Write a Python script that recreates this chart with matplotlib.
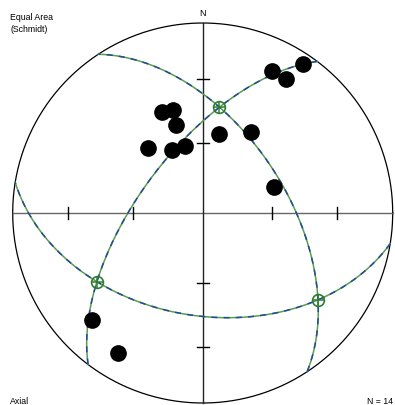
import matplotlib
matplotlib.use("Agg")
import matplotlib.pyplot as plt
import numpy as np

plt.rcParams['font.family'] = ['Liberation Sans', 'DejaVu Sans']

# axial data, lower hemisphere (trend, plunge in degrees)
trend = [338, 344, 343, 320, 334, 345, 12, 31, 26, 32, 34, 70, 226, 211]
plunge = [42, 43, 50, 53, 60, 60, 55, 49, 18, 18, 6, 57, 20, 15]

# principal axes (trend, plunge) - great circles drawn through each pair
axis_trend = [9, 237, 127]
axis_plunge = [43, 34, 25]

n_label = "N = 14"


def to_vec(t, p):
    t = np.radians(t)
    p = np.radians(p)
    return np.array([np.cos(p) * np.cos(t), np.cos(p) * np.sin(t), np.sin(p)])


def project(v):
    # equal area (Schmidt), lower hemisphere, primitive radius 1
    n, e, d = v
    k = 1.0 / np.sqrt(1 + d)
    return e * k, n * k


def great_circle(a, b):
    pole = np.cross(a, b)
    pole = pole / np.linalg.norm(pole)
    u = np.cross(pole, [0, 0, 1.0])
    u = u / np.linalg.norm(u)
    w = np.cross(pole, u)
    if w[2] < 0:
        w = -w
    t = np.linspace(0, np.pi, 400)
    pts = np.outer(np.cos(t), u) + np.outer(np.sin(t), w)
    return project(pts.T)


R = 190.0
cx, cy = 202.7, 213.0
fig = plt.figure(figsize=(3.95, 4.05), dpi=100)
ax = fig.add_axes([0, 0, 1, 1])
ax.set_xlim(-cx / R, (395 - cx) / R)
ax.set_ylim(-(405 - cy) / R, cy / R)
ax.axis('off')

# primitive circle and axes
th = np.linspace(0, 2 * np.pi, 500)
ax.plot(np.cos(th), np.sin(th), color='black', lw=0.9)
ax.plot([-1, 1], [0, 0], color='#666666', lw=1.0)
ax.plot([0, 0], [-1, 1], color='#222222', lw=1.0)

tick_r = [np.sqrt(2) * np.sin(np.radians(15)), np.sqrt(2) * np.sin(np.radians(30))]
tl = 6 / R
for r in tick_r:
    for s in (-1, 1):
        ax.plot([s * r, s * r], [-tl, tl], color='black', lw=1.0)
        ax.plot([-tl, tl], [s * r, s * r], color='black', lw=1.0)

# great circles (green with dashed blue over)
axes_v = [to_vec(t, p) for t, p in zip(axis_trend, axis_plunge)]
for i, j in [(0, 1), (0, 2), (1, 2)]:
    gx, gy = great_circle(axes_v[i], axes_v[j])
    ax.plot(gx, gy, color='#5d9b4f', lw=1.1)
    ax.plot(gx, gy, color='#1f4b99', lw=1.1, dashes=(4, 4))

# data points
for t, p in zip(trend, plunge):
    x, y = project(to_vec(t, p))
    ax.plot(x, y, 'o', color='black', ms=11)

# axis markers
for v in axes_v:
    x, y = project(v)
    ax.plot(x, y, 'o', mfc='none', mec='#2e7d32', ms=8.5, mew=1.2)
    ax.plot(x, y, '+', color='#2e7d32', ms=9, mew=1.1)

ax.text(-cx / R + 10 / R, cy / R - 17 / R, "Equal Area", fontsize=6.3, va='center', ha='left')
ax.text(-cx / R + 10 / R, cy / R - 29 / R, "(Schmidt)", fontsize=6.3, va='center', ha='left')
ax.text(0, cy / R - 14 / R, "N", fontsize=6.5, va='center', ha='center')
ax.text(-cx / R + 10 / R, cy / R - 401 / R, "Axial", fontsize=6.3, va='center', ha='left')
ax.text((395 - cx) / R - 2 / R, cy / R - 401 / R, n_label, fontsize=6.3, va='center', ha='right')

fig.savefig("out.png", dpi=100)
